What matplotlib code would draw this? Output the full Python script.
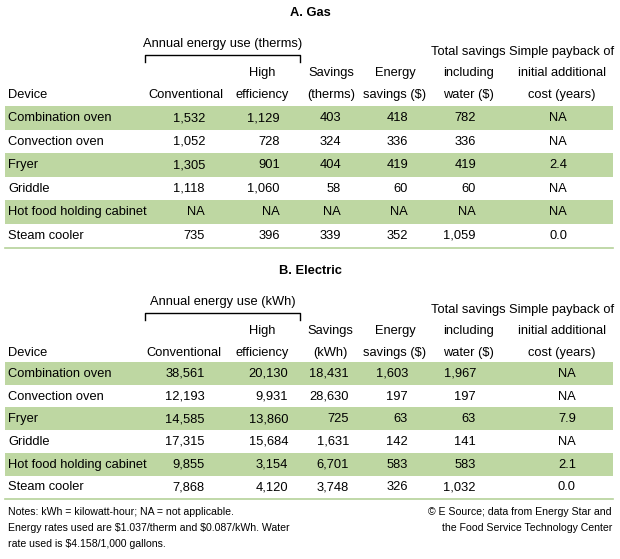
import matplotlib
matplotlib.use('Agg')
import matplotlib.pyplot as plt
from matplotlib.patches import Rectangle

plt.rcParams['font.family'] = ['Liberation Sans', 'DejaVu Sans']

# data
devices = ['Combination oven', 'Convection oven', 'Fryer', 'Griddle',
           'Hot food holding cabinet', 'Steam cooler']

gas_conventional = [1532, 1052, 1305, 1118, None, 735]
gas_high = [1129, 728, 901, 1060, None, 396]
gas_savings = [403, 324, 404, 58, None, 339]
gas_energy_savings = [418, 336, 419, 60, None, 352]
gas_total = [782, 336, 419, 60, None, 1059]
gas_payback = [None, None, 2.4, None, None, 0.0]

elec_conventional = [38561, 12193, 14585, 17315, 9855, 7868]
elec_high = [20130, 9931, 13860, 15684, 3154, 4120]
elec_savings = [18431, 28630, 725, 1631, 6701, 3748]
elec_energy_savings = [1603, 197, 63, 142, 583, 326]
elec_total = [1967, 197, 63, 141, 583, 1032]
elec_payback = [None, None, 7.9, None, 2.1, 0.0]

gas_headers = [['Conventional'], ['High', 'efficiency'], ['Savings', '(therms)'],
               ['Energy', 'savings (\\$)'], ['Total savings', 'including', 'water (\\$)'],
               ['Simple payback of', 'initial additional', 'cost (years)']]
elec_headers = [['Conventional'], ['High', 'efficiency'], ['Savings', '(kWh)'],
                ['Energy', 'savings (\\$)'], ['Total savings', 'including', 'water (\\$)'],
                ['Simple payback of', 'initial additional', 'cost (years)']]

GREEN = '#bed7a2'
FS = 9.3


def fmt(v, dec=False):
    if v is None:
        return 'NA'
    if dec:
        return f'{v:.1f}'
    return f'{v:,}'


fig = plt.figure(figsize=(6.2, 5.59), dpi=100)
ax = fig.add_axes([0, 0, 1, 1])
ax.set_xlim(0, 620)
ax.set_ylim(559, 0)
ax.axis('off')


def draw_section(top, y0, row_h, title, unit, headers, cols, rights, hcenters):
    ax.text(310, top, title, ha='center', va='center', fontsize=FS, fontweight='bold')
    # bracket header
    ax.text(223, top + 31, f'Annual energy use ({unit})', ha='center', va='center', fontsize=FS)
    ax.plot([145, 145, 300, 300], [top + 49, top + 42, top + 42, top + 49], color='black', lw=1)
    # column headers, stacked from the bottom line up
    line_y = [top + 82, top + 60, top + 38.5]
    ax.text(8, line_y[0], 'Device', ha='left', va='center', fontsize=FS)
    for h, xc in zip(headers, hcenters):
        for k, line in enumerate(reversed(h)):
            ax.text(xc, line_y[k], line, ha='center', va='center', fontsize=FS)
    # rows
    for i, dev in enumerate(devices):
        yc = y0 + row_h * (i + 0.5) + 0.5
        if i % 2 == 0:
            ax.add_patch(Rectangle((5, y0 + row_h * i), 608, row_h, color=GREEN, lw=0))
        ax.text(8, yc, dev, ha='left', va='center', fontsize=FS)
        for j, (col, xr) in enumerate(zip(cols, rights)):
            ax.text(xr, yc, fmt(col[i], dec=(j == 5)), ha='right', va='center', fontsize=FS)
    ybot = y0 + row_h * 6 + 0.5
    ax.plot([5, 613], [ybot, ybot], color='#b5d29a', lw=1.2)


draw_section(13, 106, 23.5, 'A. Gas', 'therms', gas_headers,
             [gas_conventional, gas_high, gas_savings, gas_energy_savings, gas_total, gas_payback],
             [205, 280, 341, 408, 476, 567],
             [186, 262, 331, 395, 468, 562])

draw_section(271, 362, 22.7, 'B. Electric', 'kWh', elec_headers,
             [elec_conventional, elec_high, elec_savings, elec_energy_savings, elec_total, elec_payback],
             [205, 288, 349, 408, 476, 576],
             [184, 262, 330, 395, 468, 562])

# notes
NFS = 7.6
ax.text(8, 512, 'Notes: kWh = kilowatt-hour; NA = not applicable.', ha='left', va='center', fontsize=NFS)
ax.text(8, 528, 'Energy rates used are \\$1.037/therm and \\$0.087/kWh. Water', ha='left', va='center', fontsize=NFS)
ax.text(8, 544, 'rate used is \\$4.158/1,000 gallons.', ha='left', va='center', fontsize=NFS)
ax.text(612, 512, '© E Source; data from Energy Star and', ha='right', va='center', fontsize=NFS)
ax.text(612, 528, 'the Food Service Technology Center', ha='right', va='center', fontsize=NFS)

fig.savefig('out.png', dpi=100)
